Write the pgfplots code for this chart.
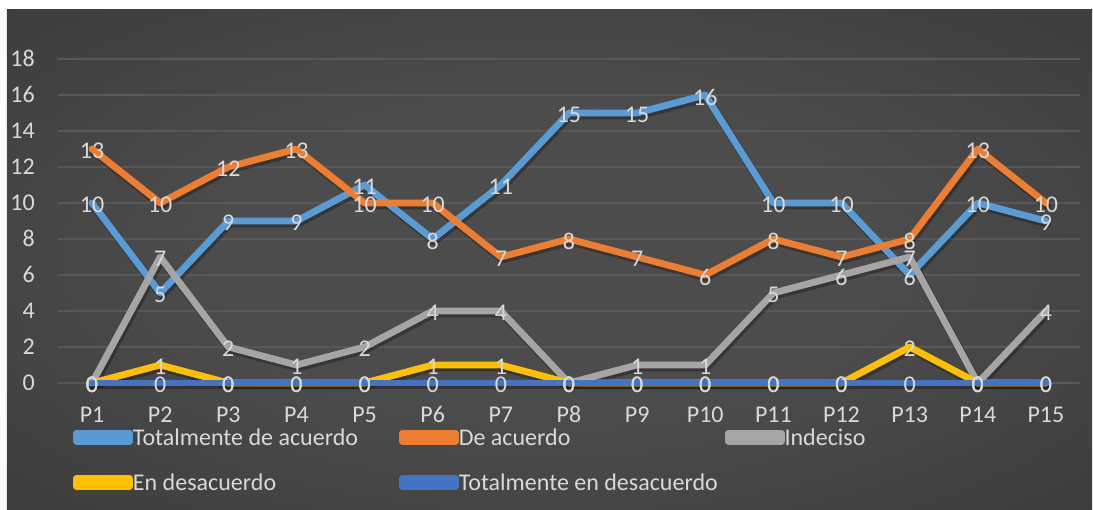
\documentclass[border=0pt]{standalone}
\usepackage{fontspec}
\setmainfont{Carlito}
\usepackage{pgfplots}
\pgfplotsset{compat=1.18}

\definecolor{serA}{HTML}{5B9BD5}
\definecolor{serB}{HTML}{ED7D31}
\definecolor{serC}{HTML}{A5A5A5}
\definecolor{serD}{HTML}{FFC000}
\definecolor{serE}{HTML}{4472C4}
\definecolor{txt}{HTML}{D9D9D9}
\definecolor{gridc}{HTML}{585858}
\definecolor{bgA}{HTML}{4C4C4C}
\definecolor{bgB}{HTML}{3A3A3A}
\definecolor{bgC}{HTML}{272727}
\pgfdeclareradialshading{chartbg}{\pgfpoint{0bp}{0bp}}{color(0bp)=(bgA); color(15bp)=(bgA); color(40bp)=(bgB); color(71bp)=(bgC)}

\newcommand\fs{\fontsize{24}{29}\selectfont}

% series values, questions P1..P15
\pgfplotstableread{
x  ta  da  ind  ed  ted
1  10  13  0   0   0
2  5   10  7   1   0
3  9   12  2   0   0
4  9   13  1   0   0
5  11  10  2   0   0
6  8   10  4   1   0
7  11  7   4   1   0
8  15  8   0   0   0
9  15  7   1   0   0
10 16  6   1   0   0
11 10  8   5   0   0
12 10  7   6   0   0
13 6   8   7   2   0
14 10  13  0   0   0
15 9   10  4   0   0
}\datos

\begin{document}
\begin{tikzpicture}
\path[fill=white] (-58pt,-127pt) rectangle (1035pt,383pt);
\shade[shading=chartbg] (-51pt,-127pt) rectangle (1034pt,373pt);
\begin{axis}[
  scale only axis, width=1022pt, height=324pt,
  clip=false,
  xmin=0.5, xmax=15.5, ymin=0, ymax=18,
  xtick={1,...,15},
  xticklabels={P1,P2,P3,P4,P5,P6,P7,P8,P9,P10,P11,P12,P13,P14,P15},
  ytick={0,2,...,18},
  axis line style={draw=none},
  major tick length=0pt,
  ymajorgrids, grid style={gridc, line width=1.3pt},
  /pgf/number format/assume math mode=true,
  tick label style={font=\fs, text=txt, inner sep=0pt},
  xticklabel style={anchor=base, yshift=-40pt},
  yticklabel style={anchor=base east, xshift=-23pt, yshift=-7.6pt},
  legend columns=3,
  legend cell align=left,
  legend style={draw=none, fill=none, inner sep=0pt,
    at={(rel axis cs:0,0)}, anchor=north west, xshift=15pt, yshift=-46pt,
    row sep=29pt,
    nodes={inner sep=0pt, font=\fs, text=txt, text height=16pt, text depth=0pt}},
  legend image code/.code={%
    \path (0pt,-4pt) rectangle (53pt,4pt);
    \draw[#1, line cap=round] (3.5pt,0pt) -- (50pt,0pt);},
  every axis plot/.append style={line width=6.8pt, line join=round, line cap=round},
]
% soft drop shadows under the lines
\foreach \s in {ta,da,ind,ed,ted}{
  \addplot[black, opacity=0.28, line width=8pt, forget plot, xshift=1.5pt, yshift=-2.5pt] table[x=x, y=\s] {\datos};
}
\addplot[serA] table[x=x, y=ta] {\datos};
\addlegendentry{\makebox[266pt][l]{Totalmente de acuerdo}}
\addplot[serB] table[x=x, y=da] {\datos};
\addlegendentry{\makebox[266pt][l]{De acuerdo}}
\addplot[serC] table[x=x, y=ind] {\datos};
\addlegendentry{\makebox[266pt][l]{Indeciso}}
\addplot[serD] table[x=x, y=ed] {\datos};
\addlegendentry{\makebox[266pt][l]{En desacuerdo}}
\addplot[serE] table[x=x, y=ted] {\datos};
\addlegendentry{\makebox[266pt][l]{Totalmente en desacuerdo}}

% value labels on top of every line
\pgfplotsset{every node near coord/.append style={anchor=center, font=\fs, text=txt, inner sep=0pt, yshift=-2pt}}
\foreach \s in {ta,da,ind,ed,ted}{
  \addplot[draw=none, forget plot, nodes near coords] table[x=x, y=\s] {\datos};
}
\end{axis}
\end{tikzpicture}
\end{document}
